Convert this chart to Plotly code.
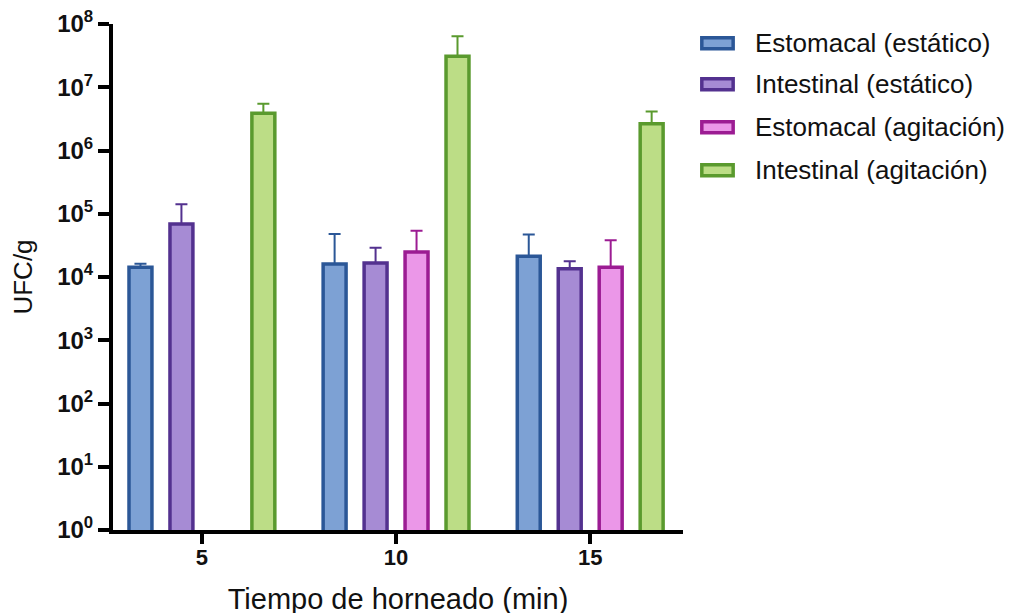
import plotly.graph_objects as go

categories = ["5", "10", "15"]
series_names = ["Estomacal (estático)", "Intestinal (estático)",
                "Estomacal (agitación)", "Intestinal (agitación)"]
est_estatico = [1.42e4, 1.61e4, 2.12e4]
est_estatico_top = [1.62e4, 4.8e4, 4.7e4]
int_estatico = [6.9e4, 1.67e4, 1.35e4]
int_estatico_top = [1.41e5, 2.9e4, 1.78e4]
est_agitacion = [None, 2.49e4, 1.42e4]
est_agitacion_top = [None, 5.4e4, 3.8e4]
int_agitacion = [3.87e6, 3.1e7, 2.65e6]
int_agitacion_top = [5.5e6, 6.4e7, 4.14e6]

tick_vals = [10 ** k for k in range(0, 9)]
tick_text = ["<b>10<sup>%d</sup></b>" % k for k in range(0, 9)]
x_tick_text = ["<b>5</b>", "<b>10</b>", "<b>15</b>"]

fills = ["#7DA1D4", "#A68BD4", "#EB97E8", "#BCDD86"]
lines = ["#2B5797", "#53318F", "#9C1C93", "#5A9A2E"]
values = [est_estatico, int_estatico, est_agitacion, int_agitacion]
tops = [est_estatico_top, int_estatico_top, est_agitacion_top, int_agitacion_top]

fig = go.Figure()
for name, v, t, fc, lc in zip(series_names, values, tops, fills, lines):
    err = [(b - a) if (a is not None and b is not None) else 0 for a, b in zip(v, t)]
    fig.add_trace(go.Bar(
        x=categories, y=v, name=name, showlegend=False,
        marker=dict(color=fc, line=dict(color=lc, width=3.5)),
        error_y=dict(type="data", array=err, arrayminus=[0] * len(err),
                     symmetric=False, color=lc, thickness=2, width=6),
    ))

# legend drawn as shapes + text annotations (wide outlined swatches)
legend_rows_y = [0.962, 0.881, 0.796, 0.711]
for name, fc, lc, yy in zip(series_names, fills, lines, legend_rows_y):
    fig.add_shape(type="rect", xref="paper", yref="paper",
                  x0=1.033, x1=1.088, y0=yy - 0.011, y1=yy + 0.011,
                  fillcolor=fc, line=dict(color=lc, width=3.5))
    fig.add_annotation(xref="paper", yref="paper", x=1.122, y=yy,
                       xanchor="left", yanchor="middle", text=name, showarrow=False,
                       font=dict(size=26, color="#111111"))

fig.update_layout(
    width=1015, height=613,
    margin=dict(l=105, r=340, t=16, b=91),
    paper_bgcolor="white", plot_bgcolor="white",
    barmode="group", bargap=0.156, bargroupgap=0.44,
    font=dict(family="Liberation Sans, Arial, sans-serif", color="#111111"),
    showlegend=False,
)
fig.update_xaxes(
    type="category", range=[-0.458, 2.478], automargin=False,
    tickvals=categories, ticktext=x_tick_text,
    showline=True, linecolor="black", linewidth=4,
    ticks="outside", ticklen=10, tickwidth=4, tickcolor="black",
    tickfont=dict(size=22, color="#111111"), ticklabelstandoff=-5,
    title=dict(text="Tiempo de horneado (min)", font=dict(size=29), standoff=20),
    showgrid=False, zeroline=False,
)
fig.update_yaxes(
    type="log", range=[0, 8], automargin=False,
    tickvals=tick_vals, ticktext=tick_text, ticklabeloverflow="allow",
    showline=True, linecolor="black", linewidth=4,
    ticks="outside", ticklen=11, tickwidth=4, tickcolor="black",
    tickfont=dict(size=24, color="#111111"),
    title=dict(text="UFC/g", font=dict(size=26), standoff=24),
    showgrid=False, zeroline=False,
)

fig.write_html("out.html")
